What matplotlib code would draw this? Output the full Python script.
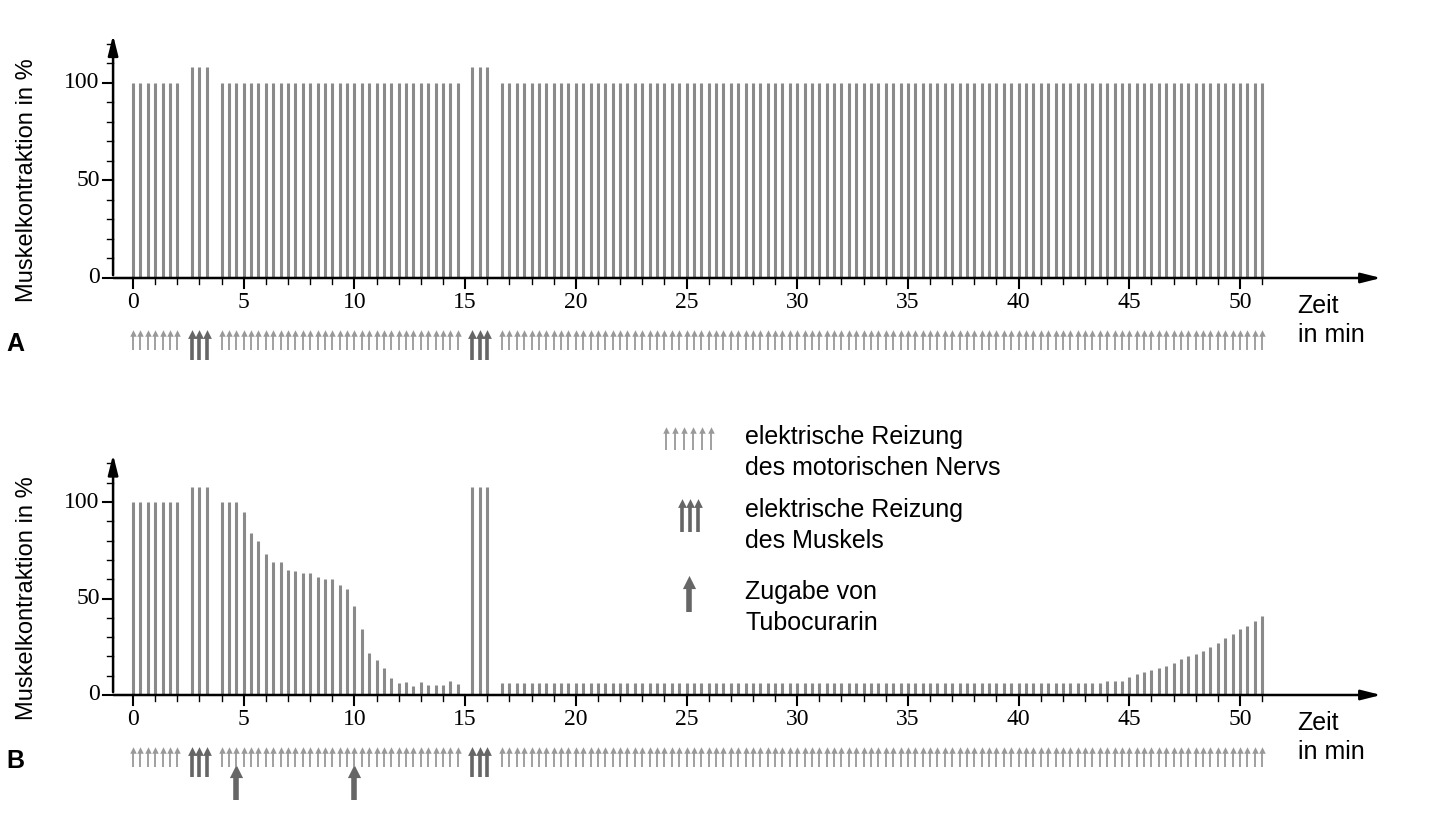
import numpy as np
import matplotlib.pyplot as plt

# Zeitpunkte (min), Reize alle 20 s
t_nerv1 = np.arange(0, 7) / 3
t_muskel1 = np.array([8, 9, 10]) / 3
t_nerv2 = np.arange(12, 45) / 3
t_muskel2 = np.array([46, 47, 48]) / 3
t_nerv3 = np.arange(50, 154) / 3
t_tubo = [4.67, 10.0]

h_muskel = 108
# A: alles 100 %
a_nerv1 = [100] * 7
a_nerv2 = [100] * 33
a_nerv3 = [100] * 104
# B: Tubocurarin-Versuch
b_nerv1 = [100] * 7
b_nerv2 = [100, 100, 100, 95, 84, 80, 73, 69, 69, 65, 64, 63, 63, 61, 60, 60, 57, 55,
           46, 34, 22, 18, 14, 9, 6, 6.5, 4.5, 6.5, 5, 5, 5, 7, 5.5]
b_nerv3 = [6] * 82 + [7.4, 7.4, 7.4, 9.5, 11, 12, 13, 14, 15, 16.5, 18.5, 20, 21.5, 23,
                      25, 27, 29.5, 31.5, 34, 36, 38.5, 41]
b_nerv3 = b_nerv3[len(b_nerv3) - 104:]

W, H = 1440, 818
fig = plt.figure(figsize=(W / 100, H / 100), dpi=100)
grey = '#8a8a8a'
dark = '#666666'
serif = 'Liberation Serif'
sans = 'Liberation Sans'


def make_axes(ytop_px, ybot_px, y0_px, y100_px):
    ppu = (y0_px - y100_px) / 100
    ymax = (y0_px - ytop_px) / ppu
    ymin = -(ybot_px - y0_px) / ppu
    ppx = (1240 - 133) / 50
    x0, x1 = 90, 1420
    xmin = (x0 - 133) / ppx
    xmax = (x1 - 133) / ppx
    ax = fig.add_axes([x0 / W, 1 - ybot_px / H, (x1 - x0) / W, (ybot_px - ytop_px) / H])
    ax.set_xlim(xmin, xmax)
    ax.set_ylim(ymin, ymax)
    ax.axis('off')
    return ax, ppu


def stim(ax, ts, y0, y1, lw, ms, col):
    ax.vlines(ts, y0, y1 - 1.5, color=col, lw=lw, clip_on=False)
    ax.scatter(ts, [y1] * len(ts), marker='^', s=ms, color=col, lw=0, clip_on=False)


def panel(ax, ppu, nerv1, nerv2, nerv3, label, tubo=False):
    for t, h in [(t_nerv1, nerv1), (t_nerv2, nerv2), (t_nerv3, nerv3)]:
        ax.vlines(t, 0, h, color=grey, lw=2.2)
    for t in [t_muskel1, t_muskel2]:
        ax.vlines(t, 0, h_muskel, color=grey, lw=2.2)
    # Achsen
    ax.annotate('', xy=(56.5, 0), xytext=(-1.0, 0),
                arrowprops=dict(arrowstyle='-|>,head_length=1.2,head_width=0.3', color='k', lw=1.8))
    ax.annotate('', xy=(-0.9, 126), xytext=(-0.9, 0),
                arrowprops=dict(arrowstyle='-|>,head_length=1.2,head_width=0.3', color='k', lw=1.8))
    for m in range(0, 52):
        ax.plot([m, m], [0, -10 / ppu if m % 5 == 0 else -6 / ppu], color='k', lw=1.5 if m % 5 == 0 else 1)
    for m in range(0, 51, 5):
        ax.text(m, -14 / ppu, str(m), ha='center', va='top', fontsize=17, family=serif)
    for v in range(0, 121, 10):
        ln = 10 if v % 50 == 0 else 6
        ax.plot([-0.9, -0.9 - ln / 22.14], [v, v], color='k', lw=1.5 if v % 50 == 0 else 1)
    for v in [0, 50, 100]:
        ax.text(-1.5, v, str(v), ha='right', va='center', fontsize=17, family=serif)
    ax.text(-4.8, 50, 'Muskelkontraktion in %', rotation=90, ha='center', va='center',
            fontsize=17, family=sans)
    ax.text(52.6, -16 / ppu, 'Zeit\nin min', ha='left', va='top', fontsize=18, family=sans,
            linespacing=1.25)
    ax.text(-5.3, -78 / ppu, label, ha='center', va='bottom', fontsize=18, family=sans,
            weight='bold')
    # Reize
    stim(ax, np.concatenate([t_nerv1, t_nerv2, t_nerv3]), -72 / ppu, -55 / ppu, 1.3, 22, '#999999')
    stim(ax, np.concatenate([t_muskel1, t_muskel2]), -82 / ppu, -56 / ppu, 2.6, 40, dark)
    if tubo:
        stim(ax, t_tubo, -105 / ppu, -76 / ppu, 4, 90, dark)


axA, pA = make_axes(30, 370, 278, 83)
panel(axA, pA, a_nerv1, a_nerv2, a_nerv3, 'A')
axB, pB = make_axes(448, 810, 695, 502)
panel(axB, pB, b_nerv1, b_nerv2, b_nerv3, 'B', tubo=True)

# Legende
lx = (np.arange(6) * 9 + 666 - 133) / 22.14
stim(axB, lx, (695 - 450) / pB, (695 - 430) / pB, 1.3, 22, '#999999')
stim(axB, (np.array([682, 690, 698]) - 133) / 22.14, (695 - 532) / pB, (695 - 503) / pB, 2.6, 40, dark)
stim(axB, [(689 - 133) / 22.14], (695 - 612) / pB, (695 - 582) / pB, 4, 90, dark)
lt = (745 - 133) / 22.14
for y, s in [(437, 'elektrische Reizung'), (468, 'des motorischen Nervs'),
             (510, 'elektrische Reizung'), (541, 'des Muskels'),
             (592, 'Zugabe von'), (623, 'Tubocurarin')]:
    axB.text(lt, (695 - y) / pB, s, ha='left', va='center', fontsize=18, family=sans)

fig.savefig('out.png', dpi=100, facecolor='white')
